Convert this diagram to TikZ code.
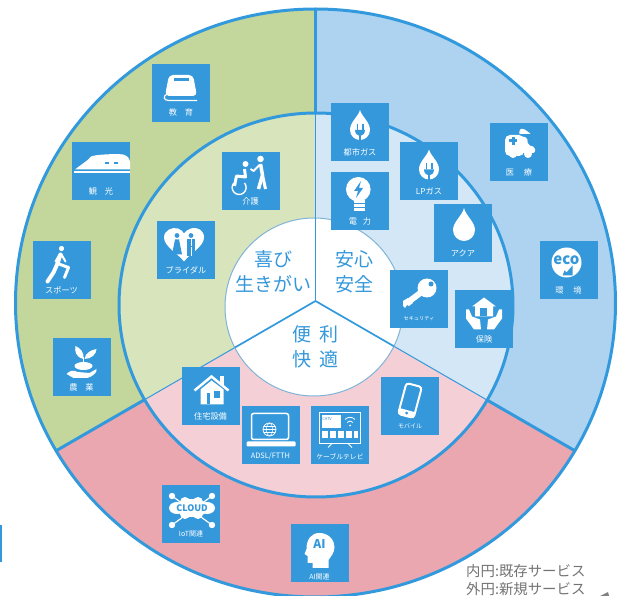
\documentclass[tikz,border=0pt]{standalone}
\usepackage{fontspec}
\setmainfont{Noto Sans CJK JP}
\usepackage{tikz}

\definecolor{tileblue}{HTML}{3498DB}
\definecolor{rimblue}{HTML}{3399DD}
\definecolor{greenout}{HTML}{C3D69B}
\definecolor{greenin}{HTML}{D8E4BC}
\definecolor{blueout}{HTML}{ADD3F0}
\definecolor{bluein}{HTML}{D3E7F6}
\definecolor{pinkout}{HTML}{EAA7B0}
\definecolor{pinkin}{HTML}{F5CFD6}

\tikzset{
  tile/.style={fill=tileblue,draw=none,minimum size=58pt,inner sep=0pt},
  tiletext/.style={text=white,font=\fontsize{8.2}{8}\selectfont,inner sep=0pt},
  smalltext/.style={text=white,font=\fontsize{5.2}{6}\selectfont,inner sep=0pt},
  hubtext/.style={text=tileblue,font=\fontsize{19}{25}\selectfont,align=center,inner sep=0pt},
  legendtext/.style={text=black!55,font=\fontsize{14.4}{14}\selectfont,anchor=west,inner sep=0pt},
  % icons, drawn around the middle of a tile
  dropicon/.pic={
    \fill[white] (0,-25) .. controls (2,-17) and (11,-11) .. (11,-3) .. controls (11,3) and (6,8) .. (0,8)
      .. controls (-6,8) and (-11,3) .. (-11,-3) .. controls (-11,-11) and (-2,-17) .. (0,-25) -- cycle;
  },
  plugicon/.pic={
    \fill[white] (0,-22) .. controls (2,-15) and (10,-10) .. (10,-2) .. controls (10,4) and (5,8) .. (0,8)
      .. controls (-5,8) and (-10,4) .. (-10,-2) .. controls (-10,-10) and (-2,-15) .. (0,-22) -- cycle;
    \fill[tileblue] (-3.5,-8) rectangle (-1.8,-2);
    \fill[tileblue] (1.8,-8) rectangle (3.5,-2);
    \fill[tileblue] (-5,-2) -- (5,-2) .. controls (5,2) and (2,4) .. (0,4) .. controls (-2,4) and (-5,2) .. (-5,-2) -- cycle;
    \fill[tileblue] (-1,3) rectangle (1,9);
  },
  bulbicon/.pic={
    \fill[white] (-1.7,-11.7) circle (12.3);
    \fill[white] (-6,-1) rectangle (5,10);
    \fill[tileblue] (-7,2.5) rectangle (6,3.5);
    \fill[tileblue] (-7,6) rectangle (6,7);
    \fill[tileblue] (1,-20) -- (-6,-10) -- (-2,-10) -- (-4,-3) -- (3,-13) -- (-1,-13) -- cycle;
  },
  ambulanceicon/.pic={
    \fill[white,rounded corners=5] (-14,-17) -- (5,-17) -- (5,4) -- (-14,4) -- cycle;
    \fill[white,rounded corners=1] (0,-18) -- (1,-23) -- (5,-23) -- (12,-18) -- cycle;
    \fill[white,rounded corners=2] (2,-15) -- (8,-15) -- (9,-7) -- (16,-5) -- (16,1) -- (2,1) -- cycle;
    \fill[white] (-6,2) circle (4);
    \fill[white] (9,2) circle (4);
    \fill[tileblue] (-7.5,-15) rectangle (-4.5,-7);
    \fill[tileblue] (-10,-12.5) rectangle (-2,-9.5);
  },
  ecoicon/.pic={
    \fill[white] (-2,-8) circle (15);
    \node[text=tileblue,inner sep=0pt,font=\fontsize{15}{15}\selectfont\bfseries] (ecoword) at (-2,-10) {eco};
    \fill[tileblue] (-6,5) -- (-4,0) -- (-2,2) -- (4,-5) -- (4,5) -- cycle;
  },
  keyicon/.pic={
    \fill[white] (8,-11) circle (9.5);
    \draw[white,line width=6] (4,-8) -- (-12,4);
    \fill[white] (-16,2) -- (-11,-1) -- (-6,4) -- (-10,7) -- (-12,6) -- (-14,9) -- (-16,7) -- cycle;
    \fill[tileblue] (12,-15) circle (2.5);
  },
  shieldicon/.pic={
    \fill[white] (0,-22) -- (12,-13) -- (9,-13) -- (9,-3) -- (-9,-3) -- (-9,-13) -- (-12,-13) -- cycle;
    \fill[tileblue] (-4,-11) rectangle (3,-3);
    \fill[white] (-18,-10) -- (-15,-10) -- (-12,-3) -- (-4,0) -- (-3,10) -- (-10,10) -- (-18,-1) -- cycle;
    \fill[white] (18,-10) -- (15,-10) -- (12,-3) -- (4,0) -- (3,10) -- (10,10) -- (18,-1) -- cycle;
  },
  bookicon/.pic={
    \fill[white,rounded corners=4] (-16,3) -- (-12,-18) -- (12,-18) -- (16,3) -- cycle;
    \fill[tileblue] (-7,-15) rectangle (8,-12);
    \draw[white,line width=1.2] (16,7.5) -- (-12,7.5) .. controls (-18,7.5) and (-18,3) .. (-14,1);
  },
  trainicon/.pic={
    \fill[white] (-26,-2) .. controls (-20,-7) and (-14,-10) .. (-10,-15) .. controls (-6,-17) and (16,-18) .. (22,-17)
      .. controls (27,-16) and (29,-12) .. (29,-9) -- (29,-2) -- cycle;
    \fill[white] (-27,0) rectangle (29,1.5);
    \fill[tileblue] (4,-9) rectangle (8,-7);
    \fill[tileblue] (13,-9) rectangle (17,-7);
  },
  runnericon/.pic={
    \fill[white] (0,-22) circle (2.6);
    \draw[white,line width=4,line cap=round,line join=round] (-1,-16) -- (-4,-7) -- (-8,2) -- (-14,11);
    \draw[white,line width=3,line cap=round,line join=round] (-4,-7) -- (7,-3) -- (3,7);
    \draw[white,line width=2,line cap=round,line join=round] (0,-16) -- (4,-9);
    \draw[white,line width=2,line cap=round,line join=round] (-2,-16) -- (-6,-9);
  },
  farmicon/.pic={
    \fill[white] (2,-1) ellipse (9 and 4);
    \draw[white,line width=1.2] (2,-4) -- (2,-10);
    \fill[white] (2,-8) .. controls (-6,-10) and (-7,-16) .. (-6,-21) .. controls (-1,-19) and (3,-14) .. (2,-8) -- cycle;
    \fill[white] (3,-8) .. controls (4,-14) and (9,-17) .. (15,-18) .. controls (15,-13) and (10,-8) .. (3,-8) -- cycle;
    \fill[white] (-15,7) .. controls (-11,3) and (-8,3) .. (-4,5) -- (8,6) -- (15,2) .. controls (16,5) and (12,9) .. (6,11) -- (-8,11) -- cycle;
  },
  careicon/.pic={
    \fill[white] (-5,-17) circle (3);
    \fill[white] (10,-22) circle (3.3);
    \draw[white,line width=3,line join=round] (-6,-12) -- (-5,-4) -- (-14,-5) -- (-16,5);
    \draw[white,line width=1.4] (-6,2) arc[start angle=-40,end angle=220,radius=7];
    \draw[white,line width=3.5,line join=round] (10,-17) -- (12,-6) -- (8,8);
    \draw[white,line width=3] (12,-6) -- (15,8);
    \draw[white,line width=1.8] (9,-16) -- (3,-10) -- (0,-12);
  },
  bridalicon/.pic={
    \fill[white] (-2,11) .. controls (-8,3) and (-22,-4) .. (-22,-13) .. controls (-22,-20) and (-14,-24) .. (-8,-22)
      .. controls (-5,-21) and (-3,-19) .. (-2,-17) .. controls (-1,-19) and (2,-21) .. (5,-22)
      .. controls (12,-24) and (18,-20) .. (18,-13) .. controls (18,-4) and (4,3) .. (-2,11) -- cycle;
    \fill[tileblue] (-9,-15) circle (2.4);
    \fill[tileblue] (5,-15) circle (2.4);
    \fill[tileblue] (-11,-11) -- (-7,-11) -- (-4,4) -- (-14,4) -- cycle;
    \fill[tileblue] (1,-11) rectangle (9,6);
    \fill[white] (4.5,-11) rectangle (5.5,-4);
    \draw[white,line width=0.5] (5,-3) -- (5,6);
  },
  houseicon/.pic={
    \fill[white] (-10,-7) -- (1,-16) -- (13,-7) -- (13,8) -- (-10,8) -- cycle;
    \fill[white] (9,-20) rectangle (13,-11);
    \draw[white,line width=2.5] (-16,-6) -- (1,-20) -- (18,-6);
    \fill[tileblue] (-4,-3) rectangle (-1,8);
    \fill[tileblue] (3,-5) rectangle (9,2);
  },
  laptopicon/.pic={
    \draw[white,line width=1.5,rounded corners=2] (-19,-22) rectangle (18,4);
    \fill[white,rounded corners=1] (-24,6) rectangle (25,11);
    \draw[white,line width=0.7] (-1,-6) circle (6.5);
    \draw[white,line width=0.5] (-1,-6) ellipse (3 and 6.5);
    \draw[white,line width=0.5] (-7.5,-6) -- (5.5,-6);
    \draw[white,line width=0.5] (-6.5,-9) -- (4.5,-9);
    \draw[white,line width=0.5] (-6.5,-3) -- (4.5,-3);
  },
  tvicon/.pic={
    \draw[white,line width=1] (-21,-23) rectangle (20,8);
    \fill[white] (-18,-20) rectangle (1,-7);
    \node[text=tileblue,inner sep=0pt,font=\fontsize{4}{4}\selectfont] (catvword) at (-13,-16) {CATV};
    \fill[white] (10,-10) circle (1);
    \draw[white,line width=0.8] (7,-13) .. controls (9,-15) and (11,-15) .. (13,-13);
    \draw[white,line width=0.8] (5,-16) .. controls (8,-19) and (12,-19) .. (15,-16);
    \fill[white] (-18,-4) rectangle (-12,3);
    \fill[white] (-10,-4) rectangle (-4,3);
    \fill[white] (-2,-4) rectangle (4,3);
    \fill[white] (6,-4) rectangle (12,3);
    \fill[white] (14,-4) rectangle (18,3);
    \draw[white,line width=1] (-8,8) -- (-12,12);
    \draw[white,line width=1] (8,8) -- (12,12);
  },
  phoneicon/.pic={
    \begin{scope}[shift={(0,-6)},rotate=-15]
      \draw[white,line width=2,rounded corners=3,fill=tileblue] (-8,-16) rectangle (8,16);
      \fill[white] (-8,10) rectangle (8,16);
      \fill[tileblue] (0,13) circle (1.6);
    \end{scope}
  },
  cloudicon/.pic={
    \draw[white,line width=1.2] (-19,-18) -- (21,11);
    \draw[white,line width=1.2] (21,-18) -- (-19,11);
    \fill[white] (-19,-18) circle (3.2);
    \fill[white] (21,-18) circle (3.2);
    \fill[white] (-19,11) circle (3.2);
    \fill[white] (21,11) circle (3.2);
    \fill[white] (1,-6) ellipse (16 and 9);
    \fill[white] (-14,-6) ellipse (8 and 6);
    \fill[white] (16,-6) ellipse (8 and 6);
    \fill[white] (-6,-12) circle (5);
    \fill[white] (7,-12) circle (5);
    \fill[white] (-6,0) circle (5);
    \fill[white] (7,0) circle (5);
    \node[text=tileblue,inner sep=0pt,font=\fontsize{9}{9}\selectfont\bfseries] (cloudword) at (1,-6) {CLOUD};
  },
  headicon/.pic={
    \fill[white] (0,-20) .. controls (9,-20) and (15,-13) .. (15,-6) .. controls (15,0) and (11,4) .. (9,7) -- (9,15)
      -- (-7,15) -- (-7,10) -- (-12,10) -- (-12,3) -- (-15,1) -- (-13,-4) .. controls (-13,-14) and (-8,-20) .. (0,-20) -- cycle;
    \node[text=tileblue,inner sep=0pt,font=\fontsize{12}{12}\selectfont\bfseries] (aiword) at (0,-9) {AI};
  },
  % the three wedges, cut off by a clip
  greenwedge/.style={insert path={(hub) -- (315.5,-99) -- (-400,-99) -- (-400,714) -- cycle}},
  bluewedge/.style={insert path={(hub) -- (315.5,-99) -- (1000,-99) -- (1000,696) -- cycle}},
  pinkwedge/.style={insert path={(hub) -- (1000,696) -- (1000,1000) -- (-400,1000) -- (-400,714) -- cycle}}
}

\begin{document}
\begin{tikzpicture}[x=1pt,y=-1pt]

      \useasboundingbox (0,0) rectangle (625,596);
      \clip (0,0) rectangle (625,596);
      \coordinate (hub) at (315.5,301);

      % outer ring
      \begin{scope}
        \clip (315.5,303) ellipse (300 and 294);
        \fill[greenout,greenwedge];
        \fill[blueout,bluewedge];
        \fill[pinkout,pinkwedge];
        \draw[rimblue,line width=3] (hub) -- ++(150:400);
        \draw[rimblue,line width=3] (hub) -- ++(270:400);
        \draw[rimblue,line width=3] (hub) -- ++(30:400);
      \end{scope}
      \draw[rimblue,line width=3] (315.5,303) ellipse (300 and 294);

      % inner ring
      \begin{scope}
        \clip (316,305) ellipse (197 and 192);
        \fill[greenin,greenwedge];
        \fill[bluein,bluewedge];
        \fill[pinkin,pinkwedge];
        \draw[rimblue,line width=1] (hub) -- ++(150:300);
        \draw[rimblue,line width=1] (hub) -- ++(270:300);
        \draw[rimblue,line width=1] (hub) -- ++(30:300);
      \end{scope}
      \draw[rimblue,line width=3] (316,305) ellipse (197 and 192);

      % hub
      \fill[white] (314,307) circle (89);
      \draw[black!15!rimblue!60!white,line width=1] (314,307) circle (89);
      \begin{scope}
        \clip (314,307) circle (89);
        \draw[rimblue,line width=1.7] (hub) -- ++(150:120);
        \draw[rimblue,line width=1.7] (hub) -- ++(270:120);
        \draw[rimblue,line width=1.7] (hub) -- ++(30:120);
      \end{scope}

      \node[hubtext] (joy) at (273,271.5) {喜び\\生きがい};
      \node[hubtext] (safe) at (354,271.5) {安心\\安全};
      \node[hubtext] (ease) at (315,347) {便\hspace{8pt}利\\快\hspace{8pt}適};

      \begin{scope}[every node/.style={tile}]
        \node (edu) at (181,93) {};
        \node (travel) at (101,171.5) {};
        \node (sports) at (61.5,270.5) {};
        \node (farm) at (81.5,367) {};
        \node (care) at (250.5,181) {};
        \node (bridal) at (186,250.5) {};
        \node (citygas) at (360,132) {};
        \node (power) at (360,201) {};
        \node (lpgas) at (429,171.5) {};
        \node (aqua) at (463,233) {};
        \node (medical) at (519,152) {};
        \node (eco) at (568.5,270.5) {};
        \node (security) at (419,299) {};
        \node (insure) at (484,319.5) {};
        \node (housing) at (210.5,396.5) {};
        \node (adsl) at (270.5,435.5) {};
        \node (catv) at (340,435.5) {};
        \node (mobile) at (410,406.5) {};
        \node (iot) at (191,514) {};
        \node (ai) at (319.5,553) {};
      \end{scope}

      \begin{scope}[every node/.style={tiletext}]
        \node (edutext) at ([yshift=-19pt]edu.center) {教\hspace{8pt}育};
        \node (traveltext) at ([yshift=-20pt]travel.center) {観\hspace{8pt}光};
        \node (sportstext) at ([yshift=-20pt]sports.center) {スポーツ};
        \node (farmtext) at ([yshift=-20pt]farm.center) {農\hspace{8pt}業};
        \node (caretext) at ([yshift=-20pt]care.center) {介護};
        \node (bridaltext) at ([yshift=-20pt]bridal.center) {ブライダル};
        \node (citygastext) at ([yshift=-20pt]citygas.center) {都市ガス};
        \node (powertext) at ([yshift=-20pt]power.center) {電\hspace{6pt}力};
        \node (lpgastext) at ([yshift=-20pt]lpgas.center) {LPガス};
        \node (aquatext) at ([yshift=-20pt]aqua.center) {アクア};
        \node (medicaltext) at ([yshift=-20pt]medical.center) {医\hspace{10pt}療};
        \node (ecotext) at ([yshift=-20pt]eco.center) {環\hspace{10pt}境};
        \node (insuretext) at ([yshift=-20pt]insure.center) {保険};
        \node (housingtext) at ([yshift=-20pt]housing.center) {住宅設備};
        \node (adsltext) at ([yshift=-21pt]adsl.center) {\fontsize{7.4}{8}\selectfont ADSL/FTTH};
      \end{scope}

      \begin{scope}[every node/.style={smalltext}]
        \node (securitytext) at ([yshift=-20pt]security.center) {セキュリティ};
        \node (catvtext) at ([yshift=-21pt]catv.center) {\fontsize{6.8}{7}\selectfont ケーブルテレビ};
        \node (mobiletext) at ([yshift=-20pt]mobile.center) {\fontsize{6}{6}\selectfont モバイル};
        \node (iottext) at ([yshift=-20pt]iot.center) {\fontsize{7}{7}\selectfont IoT関連};
        \node (aitext) at ([yshift=-24pt]ai.center) {\fontsize{7}{7}\selectfont AI関連};
      \end{scope}

      \pic at (edu) {bookicon};
      \pic at (travel) {trainicon};
      \pic at (sports) {runnericon};
      \pic at (farm) {farmicon};
      \pic at (care) {careicon};
      \pic at (bridal) {bridalicon};
      \pic at (citygas) {plugicon};
      \pic at (power) {bulbicon};
      \pic at (lpgas) {plugicon};
      \pic at ([xshift=1pt]aqua.center) {dropicon};
      \pic at (medical) {ambulanceicon};
      \pic at (eco) {ecoicon};
      \pic at (security) {keyicon};
      \pic at (insure) {shieldicon};
      \pic at (housing) {houseicon};
      \pic at (adsl) {laptopicon};
      \pic at (catv) {tvicon};
      \pic at (mobile) {phoneicon};
      \pic at (iot) {cloudicon};
      \pic at (ai) {headicon};

      \node[legendtext] (inner) at (466,571) {内円:既存サービス};
      \node[legendtext] (outer) at (466,589) {外円:新規サービス};

      % stray bits at the edges
      \fill[rimblue] (0,525) rectangle (1.5,562);
      \fill[black!50] (600,596) -- (608,592) -- (609,596) -- cycle;
    \end{tikzpicture}
\end{document}
